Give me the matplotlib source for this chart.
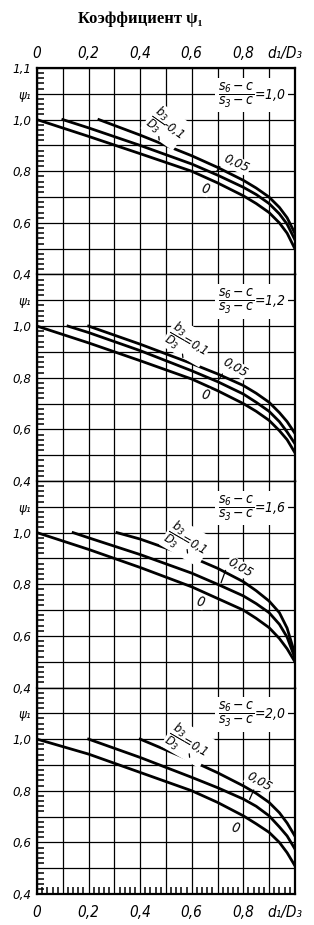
import numpy as np
import matplotlib.pyplot as plt
from matplotlib.ticker import MultipleLocator

plt.rcParams["font.family"] = "DejaVu Sans"
plt.rcParams["font.style"] = "italic"
plt.rcParams["font.stretch"] = "condensed"
plt.rcParams["mathtext.fontset"] = "dejavusans"

# s6-c / s3-c for each panel
ratios = ["1,0", "1,2", "1,6", "2,0"]
rel_text = ["-0,1", "=0,1", "=0,1", "=0,1"]

# b3/D3 = 0
d_b0 = [0, 0.2, 0.4, 0.6, 0.7, 0.8, 0.85, 0.9, 0.94, 0.97, 1.0]
psi_b0 = [
    [1.0, 0.935, 0.868, 0.800, 0.755, 0.705, 0.675, 0.640, 0.600, 0.560, 0.500],
    [1.0, 0.935, 0.866, 0.795, 0.750, 0.700, 0.670, 0.635, 0.595, 0.560, 0.510],
    [1.0, 0.935, 0.865, 0.790, 0.745, 0.700, 0.668, 0.632, 0.590, 0.550, 0.500],
    [1.0, 0.942, 0.871, 0.800, 0.755, 0.703, 0.672, 0.639, 0.600, 0.560, 0.510],
]

# b3/D3 = 0,05
d_b005 = [
    [0.10, 0.2, 0.4, 0.6, 0.7, 0.8, 0.85, 0.9, 0.94, 0.97, 1.0],
    [0.12, 0.2, 0.4, 0.6, 0.7, 0.8, 0.85, 0.9, 0.94, 0.97, 1.0],
    [0.14, 0.2, 0.4, 0.6, 0.7, 0.8, 0.85, 0.9, 0.94, 0.97, 1.0],
    [0.20, 0.4, 0.6, 0.7, 0.8, 0.85, 0.9, 0.94, 0.97, 1.0],
]
psi_b005 = [
    [1.0, 0.968, 0.900, 0.828, 0.785, 0.738, 0.710, 0.675, 0.635, 0.595, 0.535],
    [1.0, 0.975, 0.905, 0.827, 0.785, 0.737, 0.705, 0.670, 0.630, 0.590, 0.545],
    [1.0, 0.980, 0.915, 0.843, 0.800, 0.755, 0.725, 0.690, 0.645, 0.595, 0.515],
    [1.0, 0.929, 0.852, 0.812, 0.768, 0.740, 0.703, 0.660, 0.625, 0.575],
]

# b3/D3 = 0,1
d_b01 = [
    [0.24, 0.4, 0.6, 0.7, 0.8, 0.85, 0.9, 0.94, 0.97, 1.0],
    [0.20, 0.4, 0.6, 0.7, 0.8, 0.85, 0.9, 0.94, 0.97, 1.0],
    [0.31, 0.4, 0.6, 0.7, 0.8, 0.85, 0.9, 0.94, 0.97, 1.0],
    [0.40, 0.6, 0.7, 0.8, 0.85, 0.9, 0.94, 0.97, 1.0],
]
psi_b01 = [
    [1.0, 0.940, 0.860, 0.815, 0.765, 0.735, 0.700, 0.660, 0.620, 0.560],
    [1.0, 0.930, 0.855, 0.815, 0.770, 0.740, 0.705, 0.665, 0.630, 0.585],
    [1.0, 0.975, 0.905, 0.862, 0.810, 0.775, 0.735, 0.690, 0.630, 0.530],
    [1.0, 0.916, 0.870, 0.819, 0.790, 0.755, 0.715, 0.675, 0.625],
]

# label placement (d, psi, rotation)
pos_b01 = [(0.50, 0.975, -35), (0.585, 0.938, -30), (0.58, 0.965, -30), (0.585, 0.985, -30)]
pos_b005 = [(0.775, 0.828, -25), (0.767, 0.840, -30), (0.787, 0.863, -30), (0.86, 0.833, -30)]
pos_b0 = [(0.651, 0.731), (0.651, 0.733), (0.632, 0.731), (0.767, 0.654)]
lead_b01 = [0.475, 0.567, 0.585, 0.593]
lead_b005 = [0.69, 0.70, 0.71, 0.82]

fig, axes = plt.subplots(4, 1, figsize=(3.14, 9.25), dpi=100, sharex=True)
fig.subplots_adjust(left=0.118, right=0.939, top=0.9265, bottom=0.0335, hspace=0)

xlabels = ["0", "", "0,2", "", "0,4", "", "0,6", "", "0,8", "", ""]

for i, ax in enumerate(axes):
    ax.set_xlim(0, 1)
    ax.set_ylim(0.4, 1.2)
    ax.set_xticks(np.arange(0, 1.01, 0.1))
    ax.set_xticklabels(xlabels)
    ax.set_yticks(np.arange(0.4, 1.21, 0.1))
    ax.set_yticklabels(["0,4", "", "0,6", "", "0,8", "", "1,0", "ψ₁", "1,1" if i == 0 else ""])
    ax.grid(True, color="black", lw=0.9, zorder=1)
    ax.tick_params(which="major", length=0)
    ax.tick_params(axis="y", labelsize=9.5, pad=4)
    ax.tick_params(axis="x", labelsize=11)
    ax.yaxis.set_minor_locator(MultipleLocator(0.02))
    ax.xaxis.set_minor_locator(MultipleLocator(0.02))
    ax.tick_params(axis="y", which="minor", left=True, right=False,
                   direction="in", length=5, width=1.1, color="black")
    ax.tick_params(axis="x", which="minor", bottom=(i == 3), top=False,
                   direction="in", length=5, width=1.1, color="black")
    for s in ax.spines.values():
        s.set_linewidth(1.6)
    if i > 0:
        ax.spines["top"].set_linewidth(0.9)
    if i < 3:
        ax.spines["bottom"].set_linewidth(0.9)

    ax.plot(d_b0, psi_b0[i], color="black", lw=2)
    ax.plot(d_b005[i], psi_b005[i], color="black", lw=2)
    ax.plot(d_b01[i], psi_b01[i], color="black", lw=2)

    ax.text(0.70, 1.095, r"$\dfrac{s_6-c}{s_3-c}$" + "=" + ratios[i], fontsize=10,
            ha="left", va="center",
            bbox=dict(facecolor="white", edgecolor="none", pad=2), zorder=4)

    x, y, r = pos_b01[i]
    ax.text(x, y, r"$\dfrac{b_3}{D_3}$" + rel_text[i], fontsize=9, rotation=r,
            rotation_mode="anchor", ha="center", va="center",
            bbox=dict(facecolor="white", edgecolor="none", pad=0.5), zorder=4)
    lx = lead_b01[i]
    ly = np.interp(lx, d_b01[i], psi_b01[i])
    ax.annotate("", xy=(lx, ly), xytext=(lx - 0.004, ly + 0.035),
                arrowprops=dict(arrowstyle="-", lw=0.9, color="black"), zorder=5)

    x, y, r = pos_b005[i]
    ax.text(x, y, "0,05", fontsize=9.5, rotation=r, rotation_mode="anchor",
            ha="center", va="center",
            bbox=dict(facecolor="white", edgecolor="none", pad=0.5), zorder=4)
    lx = lead_b005[i]
    ax.annotate("", xy=(lx, np.interp(lx, d_b005[i], psi_b005[i])),
                xytext=(lx + 0.025, np.interp(lx + 0.025, d_b01[i], psi_b01[i]) + 0.02),
                arrowprops=dict(arrowstyle="-", lw=0.9, color="black"), zorder=5)

    x, y = pos_b0[i]
    ax.text(x, y, "0", fontsize=10, rotation=-15, ha="center", va="center",
            bbox=dict(facecolor="white", edgecolor="none", pad=0.3), zorder=4)

axes[0].tick_params(axis="x", labeltop=True, labelbottom=False, pad=5)
axes[3].tick_params(axis="x", labelbottom=True, pad=8)
for ax, yy, va in [(axes[0], 1.0, "bottom"), (axes[3], 0.0, "top")]:
    off = 5 if va == "bottom" else -8
    ax.annotate("d₁/D₃", xy=(0.96, yy), xycoords=("data", "axes fraction"),
                xytext=(0, off), textcoords="offset points", fontsize=11,
                ha="center", va=va)

fig.text(0.446, 0.979, "Коэффициент ψ₁", fontsize=12, fontweight="bold",
         fontstyle="normal", fontstretch="normal",
         family=["Liberation Serif", "DejaVu Serif"], ha="center", va="center")

fig.savefig("out.png", dpi=100)
